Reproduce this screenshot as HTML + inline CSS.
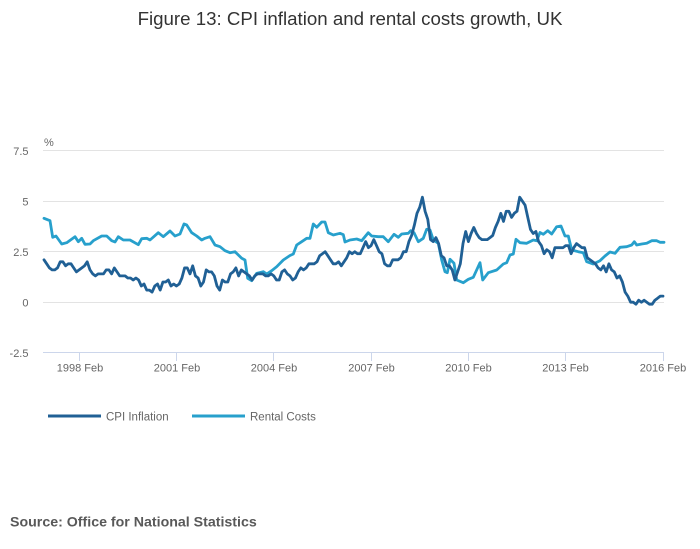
<!DOCTYPE html>
<html>
<head>
<meta charset="utf-8">
<style>
  html,body{margin:0;padding:0;background:#fff;}
  body{width:700px;height:549px;overflow:hidden;font-family:"Liberation Sans",Arial,sans-serif;}
  svg{display:block;}
</style>
</head>
<body>
<svg id="chart" width="700" height="549" viewBox="0 0 700 549" xmlns="http://www.w3.org/2000/svg">
  <rect x="0" y="0" width="700" height="549" fill="#fff"/>
  <text x="350" y="25" text-anchor="middle" font-family="Liberation Sans, Arial, sans-serif" font-size="18.7" fill="#333">Figure 13: CPI inflation and rental costs growth, UK</text>

  <!-- grid -->
  <g stroke="#e3e3e3" stroke-width="1">
    <line x1="43" x2="664" y1="150.5" y2="150.5"/>
    <line x1="43" x2="664" y1="201.5" y2="201.5"/>
    <line x1="43" x2="664" y1="251.5" y2="251.5"/>
    <line x1="43" x2="664" y1="302.5" y2="302.5"/>
  </g>
  <line x1="43" x2="664" y1="352.5" y2="352.5" stroke="#ccd6eb" stroke-width="1"/>
  <g stroke="#ccd6eb" stroke-width="1">
    <line x1="79.5" x2="79.5" y1="352" y2="361"/>
    <line x1="176.5" x2="176.5" y1="352" y2="361"/>
    <line x1="273.5" x2="273.5" y1="352" y2="361"/>
    <line x1="371.5" x2="371.5" y1="352" y2="361"/>
    <line x1="468.5" x2="468.5" y1="352" y2="361"/>
    <line x1="565.5" x2="565.5" y1="352" y2="361"/>
    <line x1="663.5" x2="663.5" y1="352" y2="361"/>
  </g>

  <!-- y labels -->
  <g font-family="Liberation Sans, Arial, sans-serif" font-size="11" fill="#666" text-anchor="end">
    <text x="28.5" y="155">7.5</text>
    <text x="28.5" y="205.5">5</text>
    <text x="28.5" y="256">2.5</text>
    <text x="28.5" y="306.5">0</text>
    <text x="28.5" y="357">-2.5</text>
  </g>
  <text x="44" y="146" font-family="Liberation Sans, Arial, sans-serif" font-size="11" fill="#666">%</text>

  <!-- x labels -->
  <g font-family="Liberation Sans, Arial, sans-serif" font-size="11" fill="#666" text-anchor="middle">
    <text x="80" y="371.5">1998 Feb</text>
    <text x="177" y="371.5">2001 Feb</text>
    <text x="274" y="371.5">2004 Feb</text>
    <text x="371.5" y="371.5">2007 Feb</text>
    <text x="468.5" y="371.5">2010 Feb</text>
    <text x="565.5" y="371.5">2013 Feb</text>
    <text x="663" y="371.5">2016 Feb</text>
  </g>

  <!-- series -->
  <polyline id="rent" fill="none" stroke="#27a0cc" stroke-width="2.8" stroke-linejoin="round" stroke-linecap="round"
    points="44,218.3 50,220.7 52.7,237.3 56,236 61.7,244 66.7,242.7 75,236.7 78.3,241.7 81.7,238.3 85,244.3 90,244 93.3,240.7 101.7,236 106.7,236 111.7,240.7 115,242 118.3,236.7 123.3,240 130,240 138.3,244.7 141.7,238.7 146.7,238.3 150,240 158.3,232.7 163.3,236.7 170,231 175,236 180,234 184,224 186.7,225 191.7,232.7 196.7,236 201.7,240 205,238.3 210,236.7 215,245 220,246.7 225,250.7 230,252.7 235,251.7 241.7,258.3 245,260 247.7,278.3 251.7,280.7 256.7,273.3 263.3,271.7 266.7,274 271.7,270.7 276.7,266.7 283.3,260 290,255.5 293.3,254 296.7,245 301.7,241.7 306.7,238.3 310,238.3 313.3,224 316.7,227.3 321.7,222 325,222 328.3,232.7 333.3,235 340,233.3 343.3,234.7 345,242 350,240 356.7,239 361.7,240.7 368.3,232.7 371.7,236 378.3,236.7 383.3,236.7 388.3,241.7 394,234.3 398.3,237.3 401.7,234 408.3,233.3 410.7,230.7 414,232.7 418.3,241.7 423.3,238.3 426.7,229.3 430,230 433.3,240 438.3,243.3 441.7,260 445,271.7 447.3,272.7 450,259.3 454,263.3 456.7,280 463.3,282.7 468.3,279.3 473.3,277.3 480,262.7 482.7,280 488.3,272.7 496.7,270 503.3,264 506.7,262.7 510,255 513.3,254 516,239.3 520,242.7 526.7,243.3 533.3,240 536.7,240.7 540,232.5 543.3,234.3 547.7,230.7 551.7,234 556.7,226.7 561,226 565,236 568.3,236 571.7,250 578.3,251.7 583.3,252.7 586.7,261.7 593.3,264 600,260.7 605,256 610,252 615,253.3 620,247.3 626.7,246.7 631.7,245 634.3,241.7 636.7,245 641.7,244 646.7,243.3 651.7,240.7 656.7,240.7 660,242.3 664,242.3"/>
  <polyline id="cpi" fill="none" stroke="#206095" stroke-width="2.8" stroke-linejoin="round" stroke-linecap="round" points=""/>

  <!-- legend -->
  <line x1="48" x2="101" y1="416" y2="416" stroke="#206095" stroke-width="3"/>
  <text x="106" y="420.5" font-family="Liberation Sans, Arial, sans-serif" font-size="11.5" fill="#666">CPI Inflation</text>
  <line x1="192" x2="245" y1="416" y2="416" stroke="#27a0cc" stroke-width="3"/>
  <text x="250" y="420.5" font-family="Liberation Sans, Arial, sans-serif" font-size="11.5" fill="#666">Rental Costs</text>

  <text x="10" y="526.7" font-family="Liberation Sans, Arial, sans-serif" font-size="14.2" font-weight="bold" fill="#595959">Source: Office for National Statistics</text>
</svg>
<script>
(function(){
  var v=[2.1,1.9,1.7,1.6,1.6,1.7,2.0,2.0,1.8,1.9,1.9,1.7,
  1.5,1.6,1.7,1.8,2.0,1.6,1.4,1.3,1.4,1.4,1.4,1.6,
  1.6,1.4,1.7,1.5,1.3,1.3,1.3,1.2,1.2,1.1,1.2,1.1,
  0.8,0.9,0.6,0.6,0.5,0.8,0.9,0.6,1.0,1.0,1.1,0.8,
  0.9,0.8,0.9,1.2,1.7,1.7,1.4,1.8,1.3,1.2,0.8,1.0,
  1.6,1.5,1.5,1.3,0.8,0.6,1.1,1.0,1.0,1.4,1.5,1.7,
  1.3,1.6,1.5,1.4,1.3,1.1,1.3,1.4,1.4,1.4,1.3,1.3,
  1.4,1.3,1.1,1.1,1.5,1.6,1.4,1.3,1.1,1.2,1.5,1.7,
  1.6,1.7,1.9,1.9,1.9,2.0,2.3,2.4,2.5,2.3,2.1,1.9,
  1.9,2.0,1.8,2.0,2.2,2.5,2.4,2.5,2.4,2.4,2.7,3.0,
  2.7,2.8,3.1,2.8,2.5,2.4,1.9,1.8,1.8,2.1,2.1,2.1,
  2.2,2.5,2.5,3.0,3.3,3.8,4.4,4.7,5.2,4.5,4.1,3.1,
  3.0,3.2,2.9,2.3,2.2,1.8,1.8,1.6,1.1,1.5,1.9,2.9,
  3.5,3.0,3.4,3.7,3.4,3.2,3.1,3.1,3.1,3.2,3.3,3.7,
  4.0,4.4,4.0,4.5,4.5,4.2,4.4,4.5,5.2,5.0,4.8,4.2,
  3.6,3.4,3.5,3.0,2.8,2.4,2.6,2.5,2.2,2.7,2.7,2.7,
  2.7,2.8,2.8,2.4,2.7,2.9,2.8,2.7,2.7,2.2,2.1,2.0,
  1.9,1.7,1.6,1.8,1.5,1.9,1.6,1.5,1.2,1.3,1.0,0.5,
  0.3,0.0,0.0,-0.1,0.1,0.0,0.1,0.0,-0.1,-0.1,0.1,0.2,
  0.3,0.3];
  var p=[];
  for(var i=0;i<v.length;i++){
    var x=44+i*2.703, y=302.2-v[i]*20.2;
    p.push(x.toFixed(1)+","+y.toFixed(1));
  }
  document.getElementById("cpi").setAttribute("points",p.join(" "));
})();
</script>
</body>
</html>
